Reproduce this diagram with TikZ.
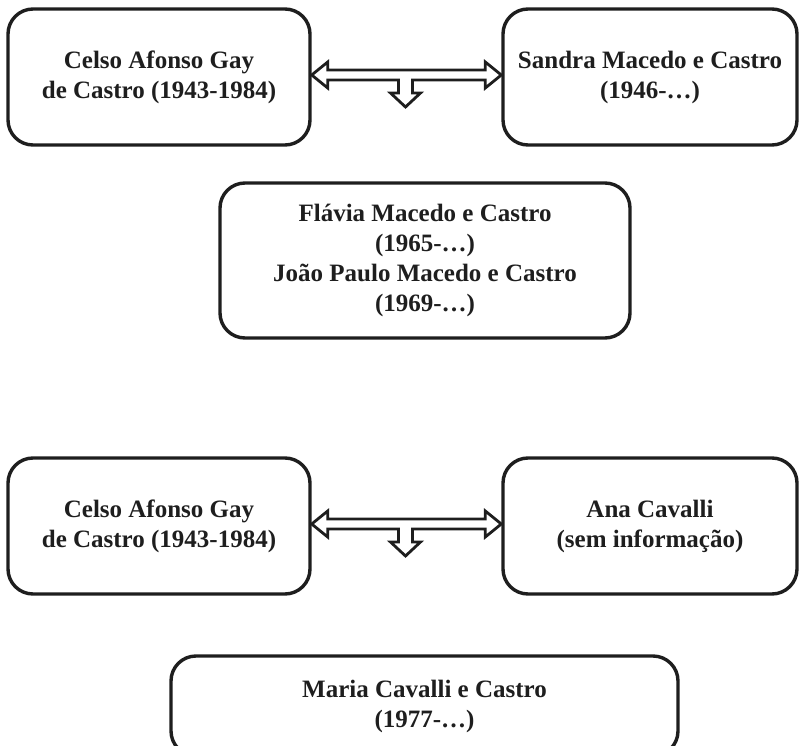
\documentclass[tikz,border=0pt]{standalone}
\usepackage{fontspec}
\setmainfont{Liberation Serif}
\usetikzlibrary{calc}
\definecolor{ink}{HTML}{1E1E1E}
\tikzset{
  person/.style={draw=ink, line width=3.4pt, rounded corners=25pt, fill=white,
    align=center, inner sep=0pt, text=ink,
    font=\fontsize{25}{30}\selectfont\bfseries},
  famarrow/.style={draw=ink, line width=2.8pt, fill=white, line join=miter}
}
\begin{document}
\begin{tikzpicture}[x=1pt, y=-1pt]
\useasboundingbox (0,0) rectangle (800,746);
% first couple
\node[person, minimum width=302pt, minimum height=136pt] (c1) at (159,77) {Celso Afonso Gay\\de Castro (1943-1984)};
\node[person, minimum width=294pt, minimum height=136pt] (s1) at (650,77) {Sandra Macedo e Castro\\(1946-…)};
\node[person, minimum width=410pt, minimum height=155pt] (k1) at (425,260.5) {Flávia Macedo e Castro\\(1965-…)\\João Paulo Macedo e Castro\\(1969-…)};
% second couple
\node[person, minimum width=302pt, minimum height=136pt] (c2) at (159,526) {Celso Afonso Gay\\de Castro (1943-1984)};
\node[person, minimum width=294pt, minimum height=136pt] (s2) at (650,526) {Ana Cavalli\\(sem informação)};
\node[person, minimum width=507pt, minimum height=100pt] (k2) at (424.5,706) {Maria Cavalli e Castro\\(1977-…)};
% arrows
\foreach \i in {1,2}{
  \coordinate (m\i L) at ($(c\i.east)+(0,-2)$);
  \coordinate (m\i R) at ($(s\i.west)+(0,-2)$);
  \coordinate (m\i M) at ($(m\i L)!0.5!(m\i R)$);
  \draw[famarrow] (m\i L) -- ++(16,-13) -- ++(0,8) -- ($(m\i R)+(-16,-5)$) -- ++(0,-8)
    -- (m\i R) -- ++(-16,13) -- ++(0,-8) -- ($(m\i M)+(6,5)$) -- ++(0,13) -- ++(8,0)
    -- ++(-15,14) -- ++(-15,-14) -- ++(8,0) -- ++(0,-13) -- ($(m\i L)+(16,5)$) -- ++(0,8) -- cycle;
}
\end{tikzpicture}
\end{document}
